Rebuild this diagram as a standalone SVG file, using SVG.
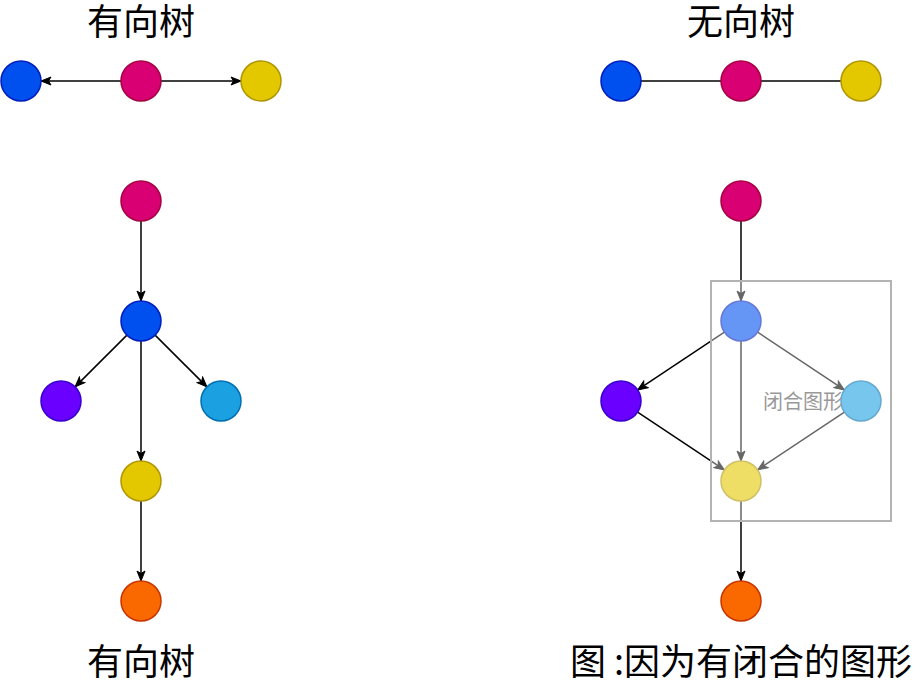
<svg xmlns="http://www.w3.org/2000/svg" width="922" height="683" viewBox="0 0 922 683">
<style>
.t{font-family:"Noto Sans CJK SC","Noto Sans",sans-serif;fill:#000;text-anchor:middle}
.e{stroke:#000;stroke-width:1.5;fill:none}
.blue{fill:#0050EF;stroke:#001DBC}
.mag{fill:#D80073;stroke:#A50040}
.yel{fill:#E3C800;stroke:#B09500}
.pur{fill:#6A00FF;stroke:#3700CC}
.cyan{fill:#1BA1E2;stroke:#006EAF}
.ora{fill:#FA6800;stroke:#C73500}
circle{stroke-width:1.5}
</style>
<defs>
<marker id="a" markerUnits="userSpaceOnUse" markerWidth="12" markerHeight="10" refX="11" refY="5" orient="auto">
<path d="M1,1 L11,5 L1,9 L3.5,5 Z" fill="#000" stroke="#000" stroke-width="1"/>
</marker>
</defs>
<text class="t" x="141" y="35" font-size="36">有向树</text>
<text class="t" x="741" y="35" font-size="36">无向树</text>
<text class="t" x="141" y="675" font-size="36">有向树</text>
<text class="t" x="741" y="675" font-size="36">图 :因为有闭合的图形</text>
<g id="connectors">
<line class="e" x1="121" y1="81" x2="41" y2="81" marker-end="url(#a)"/>
<line class="e" x1="161" y1="81" x2="241" y2="81" marker-end="url(#a)"/>
<line class="e" x1="141" y1="221" x2="141" y2="301" marker-end="url(#a)"/>
<line class="e" x1="126.9" y1="335.1" x2="75.1" y2="386.9" marker-end="url(#a)"/>
<line class="e" x1="155.1" y1="335.1" x2="206.9" y2="386.9" marker-end="url(#a)"/>
<line class="e" x1="141" y1="341" x2="141" y2="461" marker-end="url(#a)"/>
<line class="e" x1="141" y1="501" x2="141" y2="581" marker-end="url(#a)"/>
<line class="e" x1="641" y1="81" x2="721" y2="81"/>
<line class="e" x1="761" y1="81" x2="841" y2="81"/>
<line class="e" x1="741" y1="221" x2="741" y2="301" marker-end="url(#a)"/>
<line class="e" x1="724.4" y1="332.1" x2="637.6" y2="389.9" marker-end="url(#a)"/>
<line class="e" x1="757.6" y1="332.1" x2="844.4" y2="389.9" marker-end="url(#a)"/>
<line class="e" x1="741" y1="341" x2="741" y2="461" marker-end="url(#a)"/>
<line class="e" x1="844.4" y1="412.1" x2="757.6" y2="469.9" marker-end="url(#a)"/>
<line class="e" x1="637.6" y1="412.1" x2="724.4" y2="469.9" marker-end="url(#a)"/>
<line class="e" x1="741" y1="501" x2="741" y2="581" marker-end="url(#a)"/>
</g>
<g id="l-top-blue"><circle class="blue" cx="21" cy="81" r="20"/></g>
<g id="l-top-mag"><circle class="mag" cx="141" cy="81" r="20"/></g>
<g id="l-top-yel"><circle class="yel" cx="261" cy="81" r="20"/></g>
<g id="l-mag"><circle class="mag" cx="141" cy="201" r="20"/></g>
<g id="l-blue"><circle class="blue" cx="141" cy="321" r="20"/></g>
<g id="l-pur"><circle class="pur" cx="61" cy="401" r="20"/></g>
<g id="l-cyan"><circle class="cyan" cx="221" cy="401" r="20"/></g>
<g id="l-yel"><circle class="yel" cx="141" cy="481" r="20"/></g>
<g id="l-ora"><circle class="ora" cx="141" cy="601" r="20"/></g>
<g id="r-top-blue"><circle class="blue" cx="621" cy="81" r="20"/></g>
<g id="r-top-mag"><circle class="mag" cx="741" cy="81" r="20"/></g>
<g id="r-top-yel"><circle class="yel" cx="861" cy="81" r="20"/></g>
<g id="r-mag"><circle class="mag" cx="741" cy="201" r="20"/></g>
<g id="r-blue"><circle class="blue" cx="741" cy="321" r="20"/></g>
<g id="r-pur"><circle class="pur" cx="621" cy="401" r="20"/></g>
<g id="r-cyan"><circle class="cyan" cx="861" cy="401" r="20"/></g>
<g id="r-yel"><circle class="yel" cx="741" cy="481" r="20"/></g>
<g id="r-ora"><circle class="ora" cx="741" cy="601" r="20"/></g>
<g id="closed-shape">
<rect x="711" y="281" width="180" height="240" fill="#fff" fill-opacity="0.4" stroke="#b3b3b3" stroke-width="2"/>
<text x="843" y="409" font-size="20" fill="#999" text-anchor="end" font-family="Noto Sans CJK SC, Noto Sans, sans-serif">闭合图形</text>
</g>
</svg>
